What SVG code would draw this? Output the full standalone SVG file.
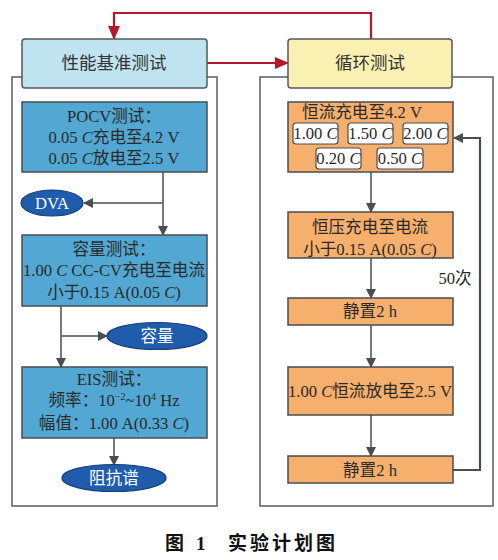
<svg xmlns="http://www.w3.org/2000/svg" width="498" height="560" viewBox="0 0 498 560">
<style>
.frame{fill:none;stroke:#5a5d62;stroke-width:1.5}
.hdrL{fill:#bfe3ef;stroke:#55585c;stroke-width:1.5}
.hdrR{fill:#faf0b2;stroke:#55585c;stroke-width:1.5}
.blue{fill:#52a8d2;stroke:#4a4d52;stroke-width:1.5}
.org{fill:#f6af6c;stroke:#4a4d52;stroke-width:1.5}
.chip{fill:#ffffff;stroke:#4a4d52;stroke-width:1.2}
.ell{fill:#1f5cab;stroke:#163f78;stroke-width:1.2}
.t{font-family:"Liberation Serif","Noto Sans CJK SC",serif;font-size:16.6px;fill:#2a2a2a;text-anchor:middle}
.h{font-family:"Liberation Serif","Noto Sans CJK SC",serif;font-size:17.5px;fill:#333;text-anchor:middle}
.w{font-family:"Liberation Serif","Noto Sans CJK SC",serif;font-size:16.6px;fill:#ffffff;text-anchor:middle}
.cap{font-family:"Liberation Serif","Noto Sans CJK SC",serif;font-size:19px;font-weight:bold;fill:#111}
.i{font-style:italic}
.ln{fill:none;stroke:#4a4d52;stroke-width:1.5}
.red{fill:none;stroke:#b5172b;stroke-width:2.2}
</style>
<defs>
<marker id="ag" markerWidth="10" markerHeight="10" refX="9" refY="5" orient="auto" markerUnits="userSpaceOnUse">
<path d="M0,0 L10,5 L0,10 Z" fill="#4a4d52"/>
</marker>
<marker id="ar" markerWidth="14" markerHeight="12" refX="13" refY="6" orient="auto-start-reverse" markerUnits="userSpaceOnUse">
<path d="M0,0 L14,6 L0,12 Z" fill="#b5172b"/>
</marker>
</defs>

<g id="frames">
<rect class="frame" x="12" y="77" width="205" height="429"/>
<rect class="frame" x="260" y="77" width="233" height="429"/>
</g>

<g id="connectors">
<path class="red" d="M114,39 V13 H371 V39" marker-start="url(#ar)"/>
<path class="red" d="M207,63 H288" marker-end="url(#ar)"/>
<path class="ln" d="M163,172 V235" marker-end="url(#ag)"/>
<path class="ln" d="M163,203 H84" marker-end="url(#ag)"/>
<path class="ln" d="M61,306 V367" marker-end="url(#ag)"/>
<path class="ln" d="M61,336 H107" marker-end="url(#ag)"/>
<path class="ln" d="M114,438 V465" marker-end="url(#ag)"/>
<path class="ln" d="M371,172 V212" marker-end="url(#ag)"/>
<path class="ln" d="M371,258 V298" marker-end="url(#ag)"/>
<path class="ln" d="M371,325 V367" marker-end="url(#ag)"/>
<path class="ln" d="M371,415 V456" marker-end="url(#ag)"/>
<path class="ln" style="stroke-width:2.2" d="M453,470 H480 V138 H454" marker-end="url(#ag)"/>
<text class="t" x="455" y="284">50次</text>
</g>

<g id="hdr-left">
<rect class="hdrL" x="22" y="39" width="185" height="49" rx="3"/>
<text class="h" x="114" y="69">性能基准测试</text>
</g>
<g id="hdr-right">
<rect class="hdrR" x="288" y="39" width="164" height="49" rx="3"/>
<text class="h" x="370" y="69">循环测试</text>
</g>

<g id="pocv">
<rect class="blue" x="22" y="102" width="185" height="70"/>
<text class="t" x="114" y="122">POCV测试：</text>
<text class="t" x="114" y="143">0.05 <tspan class="i">C</tspan>充电至4.2 V</text>
<text class="t" x="114" y="164">0.05 <tspan class="i">C</tspan>放电至2.5 V</text>
</g>
<g id="dva">
<ellipse class="ell" cx="52" cy="203" rx="31" ry="13"/>
<text class="w" x="52" y="209">DVA</text>
</g>
<g id="capacity-test">
<rect class="blue" x="22" y="235" width="185" height="71"/>
<text class="t" x="114" y="255">容量测试：</text>
<text class="t" x="114" y="276">1.00 <tspan class="i">C</tspan> CC-CV充电至电流</text>
<text class="t" x="114" y="298">小于0.15 A(0.05 <tspan class="i">C</tspan>)</text>
</g>
<g id="capacity">
<ellipse class="ell" cx="157" cy="336" rx="50" ry="13.5"/>
<text class="w" x="157" y="342">容量</text>
</g>
<g id="eis">
<rect class="blue" x="22" y="367" width="185" height="71"/>
<text class="t" x="114" y="385">EIS测试：</text>
<text class="t" x="114" y="406">频率：10<tspan font-size="10" dy="-6">−2</tspan><tspan dy="6">~10</tspan><tspan font-size="10" dy="-6">4</tspan><tspan dy="6"> Hz</tspan></text>
<text class="t" x="114" y="429">幅值：1.00 A(0.33 <tspan class="i">C</tspan>)</text>
</g>
<g id="impedance">
<ellipse class="ell" cx="114" cy="478" rx="52" ry="13.5"/>
<text class="w" x="114" y="484">阻抗谱</text>
</g>

<g id="cc-charge">
<rect class="org" x="288" y="102" width="165" height="70"/>
<text class="t" x="362" y="118">恒流充电至4.2 V</text>
<rect class="chip" x="293" y="123" width="45" height="21" rx="3"/>
<text class="t" x="315.5" y="139">1.00 <tspan class="i">C</tspan></text>
<rect class="chip" x="348" y="123" width="45" height="21" rx="3"/>
<text class="t" x="370.5" y="139">1.50 <tspan class="i">C</tspan></text>
<rect class="chip" x="403" y="123" width="45" height="21" rx="3"/>
<text class="t" x="425.5" y="139">2.00 <tspan class="i">C</tspan></text>
<rect class="chip" x="316" y="148" width="45" height="21" rx="3"/>
<text class="t" x="338.5" y="164">0.20 <tspan class="i">C</tspan></text>
<rect class="chip" x="377" y="148" width="46" height="21" rx="3"/>
<text class="t" x="400" y="164">0.50 <tspan class="i">C</tspan></text>
</g>
<g id="cv-charge">
<rect class="org" x="288" y="212" width="165" height="46"/>
<text class="t" x="370" y="233">恒压充电至电流</text>
<text class="t" x="370" y="255">小于0.15 A(0.05 <tspan class="i">C</tspan>)</text>
</g>
<g id="rest1">
<rect class="org" x="288" y="298" width="165" height="27"/>
<text class="t" x="370" y="317">静置2 h</text>
</g>
<g id="discharge">
<rect class="org" x="288" y="367" width="165" height="48"/>
<text class="t" x="370" y="397">1.00 <tspan class="i">C</tspan>恒流放电至2.5 V</text>
</g>
<g id="rest2">
<rect class="org" x="288" y="456" width="165" height="27"/>
<text class="t" x="370" y="476">静置2 h</text>
</g>

<g id="caption">
<text class="cap" x="165" y="550">图</text>
<text class="cap" x="196" y="550">1</text>
<text class="cap" x="228" y="550" letter-spacing="3">实验计划图</text>
</g>
</svg>
